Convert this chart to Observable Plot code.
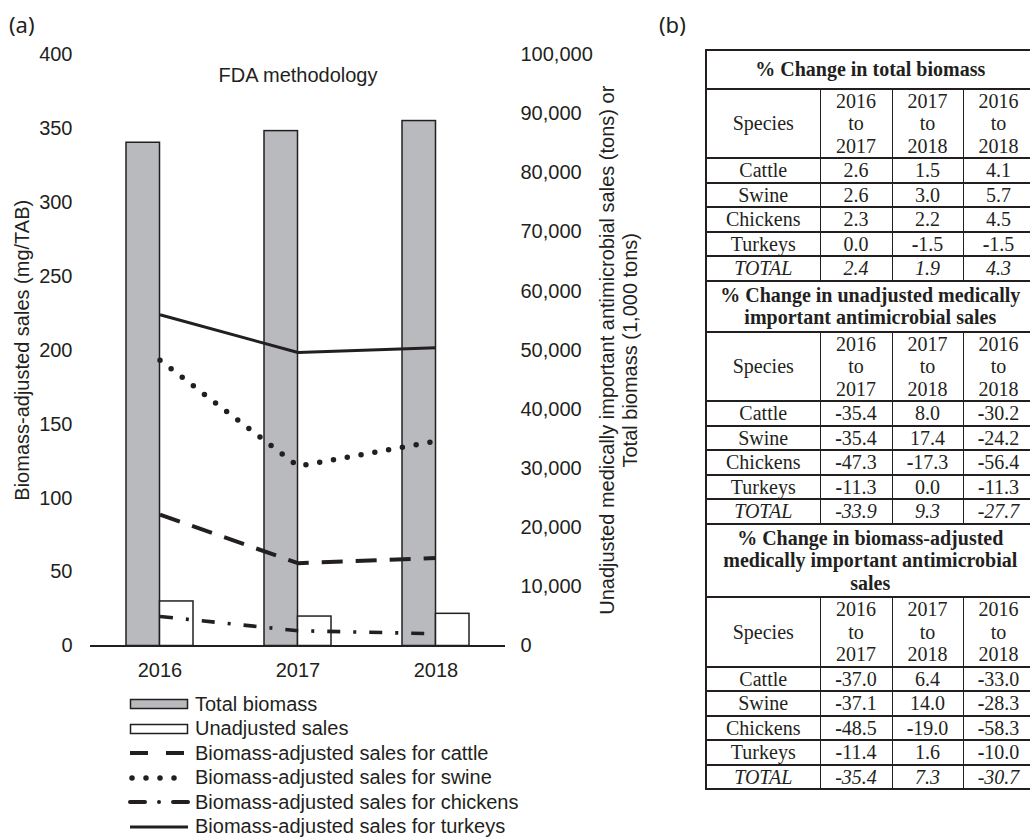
<!DOCTYPE html>
<html>
<head>
<meta charset="utf-8">
<script src="https://cdn.jsdelivr.net/npm/d3@7"></script>
<script src="https://cdn.jsdelivr.net/npm/@observablehq/plot@0.6"></script>
<style>
  html, body { margin: 0; padding: 0; background: #fff; overflow: hidden; }
  #root { position: relative; width: 1030px; height: 839px; overflow: hidden;
          font-family: "Liberation Sans", Arial, sans-serif; color: #231f20; }
  .panel { position: absolute; font-family: "Noto Sans", "Liberation Sans", sans-serif;
           font-size: 22px; line-height: 1; color: #231f20; }
  #chart { position: absolute; left: 0; top: 0; }
  #legend { position: absolute; left: 128px; top: 692px; font-size: 20px; }
  .lg-row { display: flex; align-items: center; height: 24.5px; white-space: nowrap; }
  .lg-row svg { width: 62px; height: 14px; margin-right: 5px; flex: none; }
  #tbl { position: absolute; left: 705px; top: 49px; border-collapse: collapse; table-layout: fixed;
         width: 328px; font-family: "Liberation Serif", "Times New Roman", serif; font-size: 20px;
         line-height: 22.5px; color: #231f20; border-left: 2px solid #231f20; }
  #tbl td { padding: 0; text-align: center; border-top: 2px solid #231f20; border-bottom: 2px solid #231f20;
            border-left: 1px solid #231f20; border-right: 1px solid #231f20; white-space: nowrap; }
  #tbl td.title { font-weight: bold; padding: 2px 0; }
  #tbl td.title.first { padding: 7px 0; }
  #tbl tr.total td { font-style: italic; }
  #tbl b.minus { font-weight: bold; }
</style>
</head>
<body>
<div id="root">
  <div class="panel" style="left:9px;top:13px;">(a)</div>
  <div class="panel" style="left:659px;top:13px;">(b)</div>
  <div id="chart"></div>
  <div id="legend"></div>
  <table id="tbl"></table>
</div>
<script>
// ---------- Panel (a) data ----------
const years = ["2016", "2017", "2018"];
const totalBiomass = [85080, 87050, 88750];      // 1,000 tons (right axis)
const unadjustedSales = [7530, 4980, 5440];      // tons (right axis)
const cattle = [88.8, 56.0, 59.5];               // mg/TAB (left axis)
const swine = [193.2, 121.6, 138.5];
const chickens = [20.0, 10.3, 8.3];
const turkeys = [224.0, 198.5, 201.7];
const leftTicks = [0, 50, 100, 150, 200, 250, 300, 350, 400];
const rightTicks = [0, 10000, 20000, 30000, 40000, 50000, 60000, 70000, 80000, 90000, 100000];

const chartTitle = "FDA methodology";
const leftTitle = "Biomass-adjusted sales (mg/TAB)";
const rightTitleLines = ["Unadjusted medically important antimicrobial sales (tons) or", "Total biomass (1,000 tons)"];
const legendLabels = ["Total biomass", "Unadjusted sales", "Biomass-adjusted sales for cattle",
  "Biomass-adjusted sales for swine", "Biomass-adjusted sales for chickens", "Biomass-adjusted sales for turkeys"];

// ---------- Panel (b) data ----------
const tableSpecies = ["Cattle", "Swine", "Chickens", "Turkeys", "TOTAL"];
const speciesHeader = "Species";
const periodLabels = [["2016", "to", "2017"], ["2017", "to", "2018"], ["2016", "to", "2018"]];
const sectionTitles = [
  ["% Change in total biomass"],
  ["% Change in unadjusted medically", "important antimicrobial sales"],
  ["% Change in biomass-adjusted", "medically important antimicrobial", "sales"]
];
const biomassChange = [[2.6, 1.5, 4.1], [2.6, 3.0, 5.7], [2.3, 2.2, 4.5], [0.0, -1.5, -1.5], [2.4, 1.9, 4.3]];
const unadjustedChange = [[-35.4, 8.0, -30.2], [-35.4, 17.4, -24.2], [-47.3, -17.3, -56.4], [-11.3, 0.0, -11.3], [-33.9, 9.3, -27.7]];
const adjustedChange = [[-37.0, 6.4, -33.0], [-37.1, 14.0, -28.3], [-48.5, -19.0, -58.3], [-11.4, 1.6, -10.0], [-35.4, 7.3, -30.7]];

// ---------- styles ----------
const ink = "#231f20";
const grayFill = "#b9babd";
const seriesStyles = [
  {data: cattle,   strokeWidth: 4,   dash: "21,13", cap: "butt"},
  {data: swine,    strokeWidth: 5.5, dash: "0,14",  cap: "round"},
  {data: chickens, strokeWidth: 3.6, dash: "13,13,3,13", cap: "butt"},
  {data: turkeys,  strokeWidth: 3,   dash: null,    cap: "butt"}
];

// right-axis values mapped onto the left scale
const k = rightTicks[rightTicks.length - 1] / leftTicks[leftTicks.length - 1];
const bars = years.map((y, i) => ({year: y, biomass: totalBiomass[i] / k, sales: unadjustedSales[i] / k}));
const toRows = arr => years.map((y, i) => ({year: y, v: arr[i]}));

const W = 640, H = 690;
const chart = Plot.plot({
  width: W, height: H,
  marginLeft: 90, marginRight: 135, marginTop: 54, marginBottom: 44.5,
  style: {fontFamily: "'Liberation Sans', Arial, sans-serif", fontSize: "20px", color: ink, background: "transparent", overflow: "visible"},
  x: {type: "band", domain: years, paddingInner: 0.516, paddingOuter: 0.258, axis: null},
  y: {domain: [0, 400], axis: null},
  marks: [
    Plot.barY(bars, {x: "year", y: "biomass", fill: grayFill, stroke: ink, strokeWidth: 1.5, insetRight: 33.5}),
    Plot.barY(bars, {x: "year", y: "sales", fill: "#fff", stroke: ink, strokeWidth: 1.5, insetLeft: 33.5}),
    ...seriesStyles.map(s => Plot.lineY(toRows(s.data), {
      x: "year", y: "v", stroke: ink, strokeWidth: s.strokeWidth,
      strokeDasharray: s.dash, strokeLinecap: s.cap, strokeLinejoin: "round"
    })),
    Plot.ruleY([0], {stroke: ink, strokeWidth: 2}),
    Plot.axisY(leftTicks, {anchor: "left", tickSize: 0, tickPadding: 18, label: null, fontSize: 20}),
    Plot.axisY(rightTicks.map(d => d / k), {anchor: "right", tickSize: 0, tickPadding: 15, label: null, fontSize: 20,
      tickFormat: d => d3.format(",")(Math.round(d * k))}),
    Plot.axisX({tickSize: 0, tickPadding: 17, label: null, fontSize: 20}),
    Plot.text([chartTitle], {text: d => d, frameAnchor: "top", dy: 21, textAnchor: "middle", lineAnchor: "middle", fontSize: 20}),
    Plot.text([leftTitle], {text: d => d, frameAnchor: "left", dx: -68, rotate: -90, textAnchor: "middle", lineAnchor: "middle", fontSize: 20}),
    Plot.text([rightTitleLines.join("\n")], {text: d => d, frameAnchor: "right", dx: 113, rotate: -90,
      textAnchor: "middle", lineAnchor: "middle", lineHeight: 1.15, fontSize: 20})
  ]
});
document.getElementById("chart").appendChild(chart);

// ---------- legend ----------
const NS = "http://www.w3.org/2000/svg";
const legend = document.getElementById("legend");
const swatchKinds = [
  {kind: "bar", fill: grayFill},
  {kind: "bar", fill: "#fff"},
  ...seriesStyles.map(s => ({kind: "line", style: s}))
];
const legendDash = ["18,18", "0,14", "15,14,0.01,14", null];
legendLabels.forEach((label, i) => {
  const row = document.createElement("div");
  row.className = "lg-row";
  const svg = document.createElementNS(NS, "svg");
  svg.setAttribute("viewBox", "0 0 62 14");
  const sk = swatchKinds[i];
  if (sk.kind === "bar") {
    const r = document.createElementNS(NS, "rect");
    r.setAttribute("x", 2.5); r.setAttribute("y", 2.5); r.setAttribute("width", 57); r.setAttribute("height", 9);
    r.setAttribute("fill", sk.fill); r.setAttribute("stroke", ink); r.setAttribute("stroke-width", 1.5);
    svg.appendChild(r);
  } else {
    const s = sk.style, li = i - 2;
    const l = document.createElementNS(NS, "line");
    l.setAttribute("x1", s.cap === "round" ? 4 : 2); l.setAttribute("x2", 60);
    l.setAttribute("y1", 7); l.setAttribute("y2", 7);
    l.setAttribute("stroke", ink);
    l.setAttribute("stroke-width", li === 1 ? 5.5 : (li === 3 ? 3 : 4));
    if (legendDash[li]) l.setAttribute("stroke-dasharray", legendDash[li]);
    l.setAttribute("stroke-linecap", li === 1 ? "round" : (li === 2 ? "round" : "butt"));
    svg.appendChild(l);
  }
  row.appendChild(svg);
  const t = document.createElement("span");
  t.textContent = label;
  row.appendChild(t);
  legend.appendChild(row);
});

// ---------- table (b) ----------
const tbl = document.getElementById("tbl");
const colgroup = document.createElement("colgroup");
[114, 72, 71, 71].forEach(w => { const c = document.createElement("col"); c.style.width = w + "px"; colgroup.appendChild(c); });
tbl.appendChild(colgroup);
const tbody = document.createElement("tbody");
const sections = [biomassChange, unadjustedChange, adjustedChange];
const fmtCell = (v, isTotal) => {
  if (v < 0 && !isTotal) return '<b class="minus">-</b>' + (-v).toFixed(1);
  return v.toFixed(1);
};
sections.forEach((values, si) => {
  const trT = document.createElement("tr");
  const tdT = document.createElement("td");
  tdT.colSpan = 4;
  tdT.className = "title" + (si === 0 ? " first" : "");
  tdT.innerHTML = sectionTitles[si].join("<br>");
  trT.appendChild(tdT);
  tbody.appendChild(trT);

  const trH = document.createElement("tr");
  const tdS = document.createElement("td");
  tdS.textContent = speciesHeader;
  trH.appendChild(tdS);
  periodLabels.forEach(p => {
    const td = document.createElement("td");
    td.innerHTML = p.join("<br>");
    trH.appendChild(td);
  });
  tbody.appendChild(trH);

  tableSpecies.forEach((sp, ri) => {
    const tr = document.createElement("tr");
    const isTotal = sp === "TOTAL";
    if (isTotal) tr.className = "total";
    const td0 = document.createElement("td");
    td0.textContent = sp;
    tr.appendChild(td0);
    values[ri].forEach(v => {
      const td = document.createElement("td");
      td.innerHTML = fmtCell(v, isTotal);
      tr.appendChild(td);
    });
    tbody.appendChild(tr);
  });
});
tbl.appendChild(tbody);
</script>
</body>
</html>
